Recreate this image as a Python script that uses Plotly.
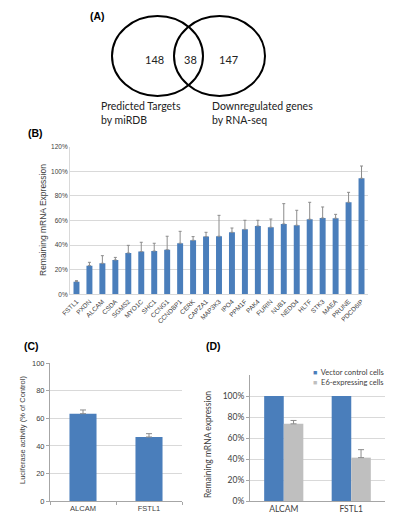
import plotly.graph_objects as go

W, H = 400, 520

# ---------------- data ----------------
venn_counts = [148, 38, 147]
venn_labels = ["Predicted Targets<br>by miRDB", "Downregulated genes<br>by RNA-seq"]

genes = ["FSTL1", "PXDN", "ALCAM", "CSDA", "SGMS2", "MYO1C", "SHC1", "CCNG1",
         "CCNDBP1", "CERK", "CAPZA1", "MAP3K3", "IPO4", "PPM1F", "PAK4", "FURIN",
         "NUB1", "NEDD4", "HLTF", "STK3", "MAEA", "PRUNE", "PDCD6IP"]
gene_expr = [10.3, 23.3, 25.2, 27.9, 33.6, 34.7, 35.2, 36.3, 41.5, 43.9, 46.9, 47.2,
             50.4, 52.8, 55.6, 54.5, 57.2, 56.1, 61.0, 62.0, 61.8, 74.8, 94.3]
gene_err = [0.8, 2.7, 6.2, 2.1, 6.2, 7.6, 6.3, 10.9, 9.7, 3.0, 3.5, 17.0,
            3.5, 7.4, 4.6, 6.7, 16.5, 12.2, 13.8, 9.0, 3.2, 8.1, 10.0]
pct_ticks = [0, 20, 40, 60, 80, 100, 120]

luc_genes = ["ALCAM", "FSTL1"]
luc_vals = [63.4, 46.5]
luc_err = [2.7, 2.4]
luc_ticks = [0, 20, 40, 60, 80, 100]

d_genes = ["ALCAM", "FSTL1"]
d_series = ["Vector control cells", "E6-expressing cells"]
d_vector = [100, 100]
d_e6 = [73.5, 41.3]
d_e6_err = [3.2, 7.6]
d_ticks = [0, 20, 40, 60, 80, 100]

BLUE = "#4a7ebb"
GRAY = "#bfbfbf"
ERR = "#8c8c8c"
GRID = "#d9d9d9"
AX = "#a6a6a6"
FONT = "Liberation Sans, Arial, sans-serif"
VF = "Lato, Liberation Sans, sans-serif"
d_colors = [BLUE, GRAY]


def px(x):
    return x / W


def py(y):
    return 1 - y / H


fig = go.Figure()

# ---------------- (B) ----------------
fig.add_trace(go.Bar(
    x=genes, y=gene_expr, marker_color=BLUE, showlegend=False, width=0.46,
    error_y=dict(type="data", array=gene_err, arrayminus=[0] * len(gene_err),
                 symmetric=False, color=ERR, thickness=1, width=1.5),
    xaxis="x", yaxis="y"))

# ---------------- (C) ----------------
fig.add_trace(go.Bar(
    x=luc_genes, y=luc_vals, marker_color=BLUE, showlegend=False, width=0.41,
    error_y=dict(type="data", array=luc_err, arrayminus=[0, 0], symmetric=False,
                 color=ERR, thickness=1, width=3),
    xaxis="x2", yaxis="y2"))

# ---------------- (D) ----------------
fig.add_trace(go.Bar(
    x=d_genes, y=d_vector, name=d_series[0], marker_color=d_colors[0],
    showlegend=False, xaxis="x3", yaxis="y3"))
fig.add_trace(go.Bar(
    x=d_genes, y=d_e6, name=d_series[1], marker_color=d_colors[1],
    showlegend=False,
    error_y=dict(type="data", array=d_e6_err, arrayminus=[0, 0], symmetric=False,
                 color=ERR, thickness=1, width=3),
    xaxis="x3", yaxis="y3"))

tickfont_small = dict(family=FONT, size=6.5, color="#404040")
tickfont_mid = dict(family=FONT, size=7.5, color="#404040")
tickfont_d = dict(family=VF, size=8.5, color="#404040")

fig.update_layout(
    template="none",
    width=W, height=H,
    margin=dict(l=0, r=0, t=0, b=0, pad=0),
    paper_bgcolor="white", plot_bgcolor="white",
    barmode="group", bargap=0.42, bargroupgap=0,
    font=dict(family=FONT),
    showlegend=False,
    xaxis=dict(domain=[px(70), px(368)], tickangle=-45, tickfont=tickfont_small,
               showline=True, linecolor=GRID, ticks="", showgrid=False,
               automargin=False, anchor="y"),
    yaxis=dict(domain=[py(294.3), py(146.7)], range=[0, 120],
               tickvals=pct_ticks, ticktext=["%d%%" % v for v in pct_ticks],
               tickfont=tickfont_small, showgrid=True, ticks="",
               gridcolor=GRID, showline=True, linecolor=GRID, zeroline=False,
               automargin=False, anchor="x"),
    xaxis2=dict(domain=[px(50), px(182)], tickfont=tickfont_mid,
                showline=True, linecolor=AX, ticks="outside", tickson="boundaries",
                ticklen=3, tickcolor=AX, showgrid=False, automargin=False,
                anchor="y2"),
    yaxis2=dict(domain=[py(501), py(363.3)], range=[0, 100],
                tickvals=luc_ticks, tickfont=tickfont_mid, showgrid=True,
                gridcolor=GRID, showline=True, linecolor=AX, ticks="outside",
                ticklen=3, tickcolor=AX, zeroline=False, automargin=False,
                anchor="x2"),
    xaxis3=dict(domain=[px(250), px(385)], tickfont=tickfont_d,
                showline=True, linecolor=AX, ticks="", showgrid=False,
                automargin=False, anchor="y3"),
    yaxis3=dict(domain=[py(501), py(375)], range=[0, 120],
                tickvals=d_ticks, ticktext=["%d%%" % v for v in d_ticks],
                tickfont=tickfont_d, showgrid=True, gridcolor=GRID,
                showline=True, linecolor=AX, ticks="outside", ticklen=3,
                tickcolor=AX, zeroline=False, automargin=False, anchor="x3"),
)

# Venn ellipses (figure is horizontally stretched)
fig.add_shape(type="circle", xref="paper", yref="paper",
              x0=px(112), x1=px(203), y0=py(96), y1=py(16),
              line=dict(color="black", width=2))
fig.add_shape(type="circle", xref="paper", yref="paper",
              x0=px(174), x1=px(265), y0=py(96), y1=py(16),
              line=dict(color="black", width=2))

ann = []


def note(x, y, text, font, xanchor="center", yanchor="middle", **kw):
    d = dict(x=px(x), y=py(y), text=text, showarrow=False, xref="paper",
             yref="paper", xanchor=xanchor, yanchor=yanchor, font=font)
    d.update(kw)
    ann.append(d)


for cx, n in zip([154, 190.5, 228.5], venn_counts):
    note(cx, 59, str(n), dict(family=VF, size=11, color="#222"))
for lx, t in zip([99, 210], venn_labels):
    note(lx, 98, t, dict(family=VF, size=10.5, color="#222"),
         xanchor="left", yanchor="top", align="left")

for lx, ly, t in [(97, 16, "(A)"), (35, 133, "(B)"), (31, 346, "(C)"), (213, 346, "(D)")]:
    note(lx, ly, "<b>%s</b>" % t, dict(family=FONT, size=10.5, color="black"))

# legend for (D)
for i, (name, col) in enumerate(zip(d_series, d_colors)):
    note(311, 372 + 10 * i,
         '<span style="color:%s;font-size:7px">■</span>  %s' % (col, name),
         dict(family=VF, size=7.5, color="#404040"), xanchor="left")

# axis titles
note(43, 220, "Remaining mRNA Expression",
     dict(family=FONT, size=8.5, color="#404040"), textangle=-90)
note(22, 430, "Luciferase activity (% of Control)",
     dict(family=FONT, size=7.5, color="#404040"), textangle=-90)
note(208, 445, "Remaining mRNA expression",
     dict(family=VF, size=8.5, color="#404040"), textangle=-90)
fig.update_layout(annotations=ann)

fig.write_html("out.html", config={"displayModeBar": False},
               post_script="document.body.style.margin='0';"
                           "document.body.style.overflow='hidden';")
